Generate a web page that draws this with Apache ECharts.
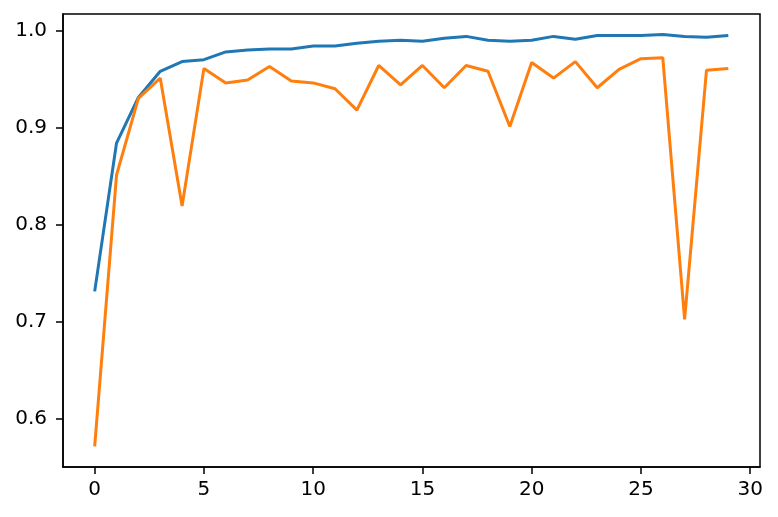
<!DOCTYPE html>
<html>
<head>
<meta charset="utf-8">
<script src="https://cdn.jsdelivr.net/npm/echarts@6/dist/echarts.min.js"></script>
<style>html,body{margin:0;padding:0;background:#fff;}#c{width:778px;height:517px;}</style>
</head>
<body>
<div id="c"></div>
<script>
const epochs = [0,1,2,3,4,5,6,7,8,9,10,11,12,13,14,15,16,17,18,19,20,21,22,23,24,25,26,27,28,29];
const trainAcc = [0.731,0.884,0.931,0.958,0.968,0.970,0.978,0.980,0.981,0.981,0.984,0.984,0.987,0.989,0.990,0.989,0.992,0.994,0.990,0.989,0.990,0.994,0.991,0.995,0.995,0.995,0.996,0.994,0.993,0.995];
const valAcc = [0.571,0.851,0.930,0.951,0.819,0.961,0.946,0.949,0.963,0.948,0.946,0.940,0.918,0.964,0.944,0.964,0.941,0.964,0.958,0.901,0.967,0.951,0.968,0.941,0.960,0.971,0.972,0.702,0.959,0.961];
const xTicks = [0,5,10,15,20,25,30];
const yTicks = [0.6,0.7,0.8,0.9,1.0];

const chart = echarts.init(document.getElementById('c'), null, {renderer:'canvas'});
const font = 'DejaVu Sans';
const tickStyle = {show:true, inside:false, length:7, lineStyle:{color:'#000', width:1.5}};
chart.setOption({
  animation:false,
  backgroundColor:'#fff',
  grid:{left:63, right:18, top:14, bottom:50, show:true, borderColor:'#000', borderWidth:1.5, containLabel:false},
  xAxis:{
    type:'value', min:-1.45, max:30.45,
    axisLine:{show:true, onZero:false, lineStyle:{color:'#000', width:1.5}},
    splitLine:{show:false},
    axisTick:Object.assign({}, tickStyle, {customValues:xTicks}),
    axisLabel:{customValues:xTicks, fontFamily:font, fontSize:20, color:'#000', margin:13,
      formatter:(v)=>String(Math.round(v))}
  },
  yAxis:{
    type:'value', min:0.5498, max:1.0171,
    axisLine:{show:true, onZero:false, lineStyle:{color:'#000', width:1.5}},
    splitLine:{show:false},
    axisTick:Object.assign({}, tickStyle, {customValues:yTicks}),
    axisLabel:{customValues:yTicks, fontFamily:font, fontSize:20, color:'#000', margin:16,
      formatter:(v)=>v.toFixed(1)}
  },
  series:[
    {type:'line', data:epochs.map((e,i)=>[e,trainAcc[i]]), showSymbol:false, symbol:'none',
     lineStyle:{color:'#1f77b4', width:3}, itemStyle:{color:'#1f77b4'}},
    {type:'line', data:epochs.map((e,i)=>[e,valAcc[i]]), showSymbol:false, symbol:'none',
     lineStyle:{color:'#ff7f0e', width:3}, itemStyle:{color:'#ff7f0e'}}
  ]
});
</script>
</body>
</html>
